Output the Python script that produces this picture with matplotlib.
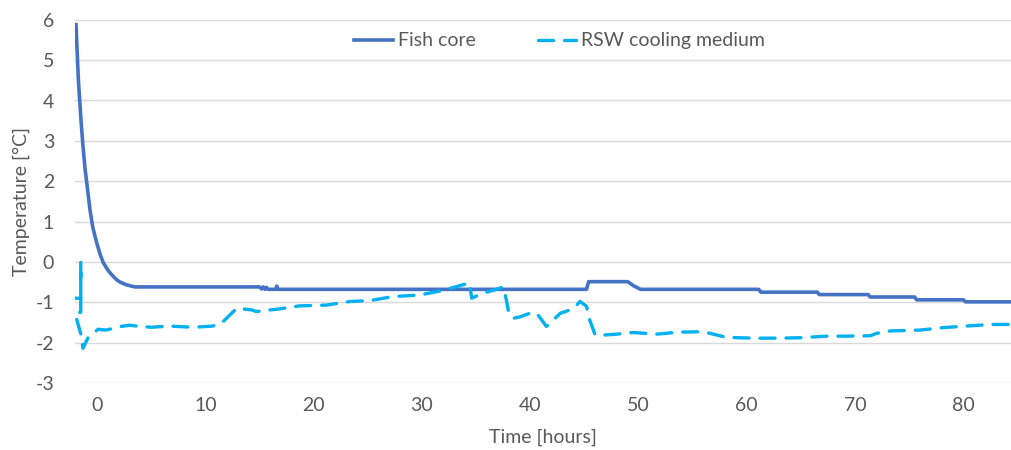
import matplotlib.pyplot as plt

# Fish core temperature over time
fish_t = [-1.94, -1.72, -1.5, -1.32, -1.1, -0.9, -0.65, -0.4, -0.15, 0.03, 0.3, 0.58,
          1.0, 1.36, 1.8, 2.12, 2.74, 3.5, 15.0, 15.2, 15.35, 15.5, 15.65, 15.8,
          16.5, 16.6, 16.7, 45.2, 45.4, 49.0, 49.6, 50.2, 61.1, 61.3, 66.5, 66.7,
          71.2, 71.4, 75.5, 75.7, 80.0, 80.2, 85.0]
fish_temp = [5.88, 4.51, 3.6, 2.95, 2.3, 1.86, 1.3, 0.87, 0.6, 0.42, 0.18, -0.02,
             -0.2, -0.32, -0.44, -0.5, -0.57, -0.62, -0.62, -0.67, -0.62, -0.68, -0.63, -0.68,
             -0.68, -0.6, -0.68, -0.68, -0.49, -0.49, -0.6, -0.68, -0.68, -0.75, -0.75, -0.81,
             -0.81, -0.87, -0.87, -0.94, -0.94, -0.99, -0.99]

# RSW cooling medium temperature over time
rsw_t = [-1.98, -1.5, -1.5, -1.5, -1.95, -1.9, -1.48, -1.3, -0.83, 0.1, 0.83, 2.2,
         3.0, 4.0, 5.0, 6.7, 8.9, 10.7, 11.5, 12.9, 14.3, 14.7, 16.0, 16.7, 18.7,
         21.2, 23.4, 25.2, 27.3, 29.8, 31.9, 34.4, 34.6, 35.6, 36.9, 37.5, 37.8,
         38.0, 38.4, 39.1, 40.0, 40.6, 41.5, 42.8, 43.7, 44.3, 44.6, 45.2, 45.5,
         46.0, 47.0, 48.0, 49.5, 51.7, 53.8, 56.0, 56.6, 58.1, 60.6, 62.7, 64.9,
         67.4, 69.2, 71.4, 72.0, 73.3, 76.0, 78.1, 80.3, 82.5, 85.0]
rsw_temp = [-0.9, -0.9, 0.0, -1.25, -1.25, -1.4, -1.8, -2.14, -1.88, -1.67, -1.69, -1.6,
            -1.57, -1.6, -1.62, -1.59, -1.62, -1.59, -1.52, -1.15, -1.19, -1.23, -1.19, -1.17, -1.09,
            -1.07, -0.98, -0.96, -0.86, -0.82, -0.71, -0.52, -0.9, -0.78, -0.68, -0.62, -0.94,
            -1.23, -1.4, -1.36, -1.27, -1.27, -1.6, -1.27, -1.19, -1.07, -0.98, -1.1, -1.44,
            -1.81, -1.81, -1.79, -1.75, -1.79, -1.74, -1.73, -1.77, -1.87, -1.89, -1.89, -1.88,
            -1.84, -1.84, -1.83, -1.77, -1.71, -1.69, -1.63, -1.59, -1.55, -1.55]

x_ticks = [0, 10, 20, 30, 40, 50, 60, 70, 80]
y_ticks = [-3, -2, -1, 0, 1, 2, 3, 4, 5, 6]

text_color = '#595959'
plt.rcParams['font.family'] = ['Lato', 'DejaVu Sans']
plt.rcParams['axes.unicode_minus'] = False
fs = 14

fig = plt.figure(figsize=(10.11, 4.5), dpi=100)
ax = fig.add_axes([0.0742, 0.149, 0.9258, 0.807])

ax.plot(fish_t, fish_temp, color='#4472C4', lw=2.6, solid_joinstyle='round',
        label='Fish core')
ax.plot(rsw_t, rsw_temp, color='#00B0F0', lw=2.4, dashes=(4.5, 3.3),
        dash_capstyle='round', label='RSW cooling medium')

ax.set_xlim(-2.03, 84.4)
ax.set_ylim(-3, 6)
ax.set_xticks(x_ticks)
ax.set_yticks(y_ticks)
ax.grid(axis='y', color='#D9D9D9', lw=1.0)
ax.set_axisbelow(True)
for s in ax.spines.values():
    s.set_visible(False)
ax.tick_params(length=0, labelsize=fs, colors=text_color)
ax.tick_params(axis='y', pad=15)
ax.tick_params(axis='x', pad=10)

ax.set_xlabel('Time [hours]', fontsize=fs, color=text_color, labelpad=11)
ax.set_ylabel('Temperature [°C]', fontsize=fs, color=text_color, labelpad=4)

fig.legend(loc='center', bbox_to_anchor=(0.5534, 0.909), ncol=2, frameon=False,
           fontsize=fs, labelcolor=text_color, handlelength=2.0,
           handletextpad=0.25, columnspacing=3.2)

fig.savefig('out.png', dpi=100)
